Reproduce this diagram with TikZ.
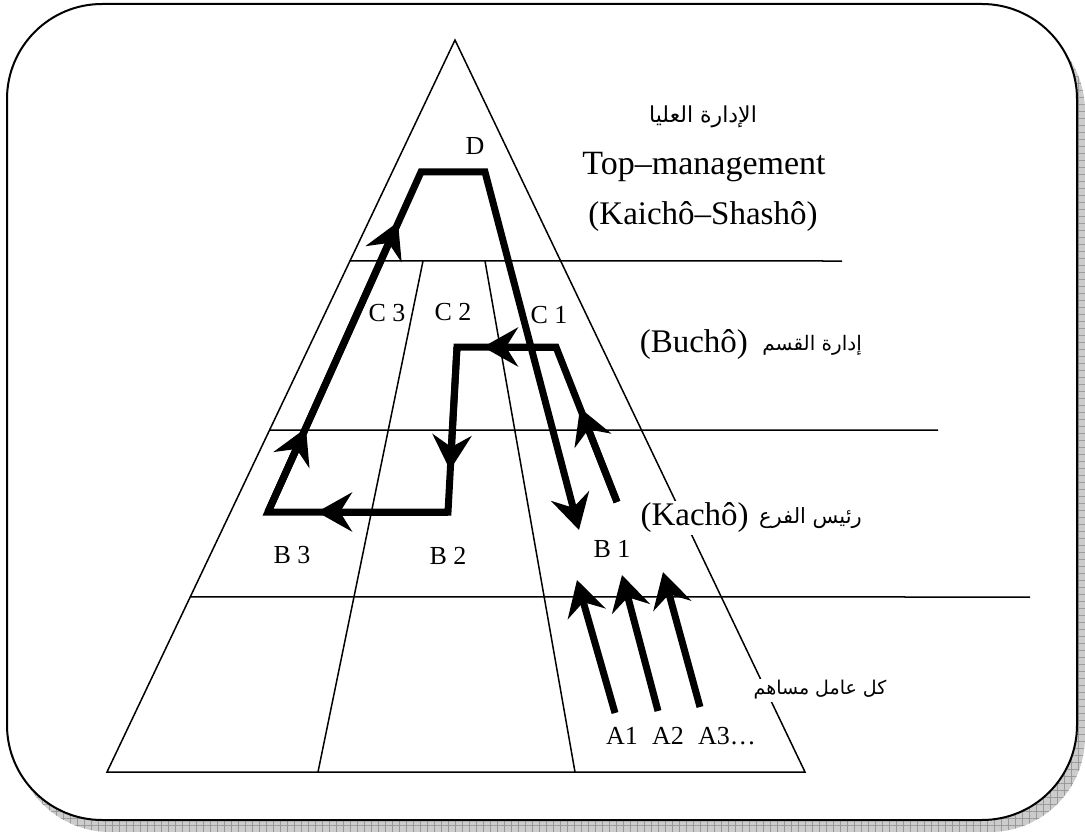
\documentclass[tikz,border=0pt]{standalone}
\usepackage{fontspec}
\setmainfont{Liberation Serif}
\newfontfamily\arabicfont[Script=Arabic]{DejaVu Sans}
\TeXXeTstate=1
\usetikzlibrary{arrows.meta,calc,patterns.meta}
\begin{document}
\begin{tikzpicture}[x=1pt,y=-1pt,
  thinline/.style={line width=1.5pt},
  flow/.style={line width=7pt, line join=miter},
  tipped/.style={-{Stealth[length=35pt,width=39pt,inset=12pt]}},
  lbl/.style={font=\fontsize{26}{28}\selectfont, inner sep=0pt},
  big/.style={font=\fontsize{33}{36}\selectfont, inner sep=0pt},
  ar/.style={font=\fontsize{21}{26}\selectfont\arabicfont, inner sep=0pt},
  arbox/.style={ar, fill=white, inner sep=2pt}]
\useasboundingbox (0,0) rectangle (1085,832);
% shadow and frame
\fill[gray!40, rounded corners=95pt] (15,16) rectangle (1085,832);
\path[pattern={Lines[angle=0,distance=7pt,line width=0.7pt]}, pattern color=gray!80, rounded corners=95pt] (15,16) rectangle (1085,832);
\path[pattern={Lines[angle=90,distance=7pt,line width=0.7pt]}, pattern color=gray!80, rounded corners=95pt] (15,16) rectangle (1085,832);
\draw[line width=2pt, fill=white, rounded corners=95pt] (7,4) rectangle (1077,820);
% triangle
\coordinate (apex) at (455,40);
\coordinate (bl) at (107,772);
\coordinate (br) at (805,772);
\draw[thinline, line join=miter] (apex) -- (bl) -- (br) -- cycle;
% horizontal levels
\coordinate (h1l) at ($(apex)!0.3019!(bl)$);
\coordinate (h2l) at ($(apex)!0.5328!(bl)$);
\coordinate (h3l) at ($(apex)!0.7609!(bl)$);
\coordinate (h1r) at (842,261);
\coordinate (h2r) at (938,430);
\coordinate (h3r) at (1030,597);
\draw[thinline] (h1l) -- (h1r);
\draw[thinline] (h2l) -- (h2r);
\draw[thinline] (h3l) -- (h3r);
% divisions
\coordinate (d1t) at (423,261);
\coordinate (d1b) at (318,772);
\coordinate (d2t) at (485,261);
\coordinate (d2b) at (575,772);
\draw[thinline] (d1t) -- (d1b);
\draw[thinline] (d2t) -- (d2b);
% main flow
\coordinate (P1) at (617,502);
\coordinate (P2) at (556,347);
\coordinate (P3) at (457,347);
\coordinate (P4) at (448,512);
\coordinate (P5) at (268,512);
\coordinate (P6) at (421,172);
\coordinate (P7) at (485,172);
\coordinate (P8) at (579,530);
\draw[flow, tipped] (P1) -- (P2) -- (P3) -- (P4) -- (P5) -- (P6) -- (P7) -- (P8);
\coordinate (T1) at (580,408);
\coordinate (T2) at (483,347);
\coordinate (T3) at (450,470);
\coordinate (T4) at (317,512);
\coordinate (T5) at (306,428);
\coordinate (T6) at (398,222);
\draw[flow, tipped] (P1) -- (T1);
\draw[flow, tipped] (P2) -- (T2);
\draw[flow, tipped] (P3) -- (T3);
\draw[flow, tipped] (P4) -- (T4);
\draw[flow, tipped] (P5) -- (T5);
\draw[flow, tipped] (P5) -- (T6);
% A arrows
\coordinate (a1b) at (615,713); \coordinate (a1t) at (577,580);
\coordinate (a2b) at (658,711); \coordinate (a2t) at (622,575);
\coordinate (a3b) at (700,707); \coordinate (a3t) at (663,572);
\draw[flow, tipped] (a1b) -- (a1t);
\draw[flow, tipped] (a2b) -- (a2t);
\draw[flow, tipped] (a3b) -- (a3t);
% labels
\node[lbl] (D) at (475,146) {D};
\node[lbl] (C3) at (387,313) {C 3};
\node[lbl] (C2) at (453,312) {C 2};
\node[lbl] (C1) at (549,315) {C 1};
\node[lbl] (B3) at (292,555) {B 3};
\node[lbl] (B2) at (448,556) {B 2};
\node[lbl] (B1) at (612,549) {B 1};
\node[lbl] (A1) at (622,736) {A1};
\node[lbl] (A2) at (668,736) {A2};
\node[lbl] (A3) at (727,736) {A3…};
% right side level labels
\node[ar, font=\fontsize{22}{26}\selectfont\arabicfont] (top-ar) at (703,117) {\beginR الإدارة العليا\endR};
\node[big, font=\fontsize{34}{36}\selectfont] (top-en) at (704,167) {Top–management};
\node[big] (top-jp) at (703,217) {(Kaichô–Shashô)};
\node[ar, anchor=east, font=\fontsize{20}{26}\selectfont\arabicfont] (mid-ar) at (862,345) {\beginR إدارة القسم\endR};
\node[big, anchor=east] (mid-jp) at ($(mid-ar.west)+(-14,0)$) {(Buchô)};
\node[arbox, anchor=east] (low-ar) at (864,518) {\beginR رئيس الفرع\endR};
\node[big, anchor=east, fill=white, inner sep=2pt] (low-jp) at ($(low-ar.west)+(-6,0)$) {(Kachô)};
\node[arbox, font=\fontsize{19}{26}\selectfont\arabicfont] (base-ar) at (820,690) {\beginR كل عامل مساهم\endR};
\end{tikzpicture}
\end{document}
